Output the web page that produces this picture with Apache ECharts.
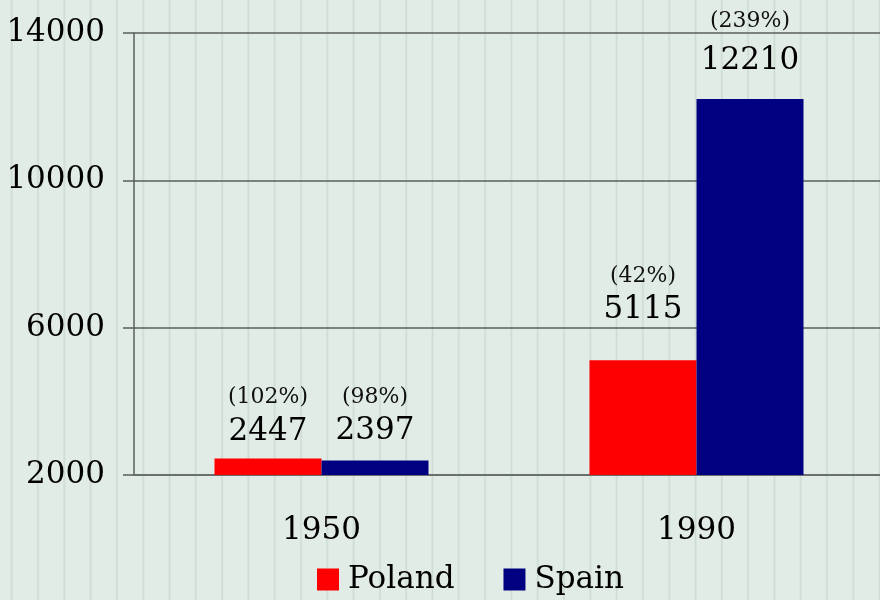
<!DOCTYPE html>
<html>
<head>
<meta charset="utf-8">
<script src="https://cdn.jsdelivr.net/npm/echarts@6/dist/echarts.min.js"></script>
<style>
  html, body { margin: 0; padding: 0; }
  #chart {
    width: 880px;
    height: 600px;
    background-color: #e2ece6;
    background-image: repeating-linear-gradient(to right,
      rgba(0,0,0,0) 0px, rgba(0,0,0,0) 10px,
      #d5e2da 11px, #cfdcd4 11.7px, #d5e2da 12.4px,
      rgba(0,0,0,0) 13.4px, rgba(0,0,0,0) 26.3px);
  }
</style>
</head>
<body>
<div id="chart"></div>
<script>
// values
const years = ['1950', '1990']
const poland = [2447, 5115]
const spain = [2397, 12210]
const polandPct = ['102%', '42%']
const spainPct = ['98%', '239%']
const yTicks = { min: 2000, max: 14000, step: 4000 }

// how far each label floats above its bar, and extra room under the percent line
const polandLift = [10, 33]
const spainLift = [12, 21]
const polandPctGap = [4, 4]
const spainPctGap = [4, 16]

const font = 'DejaVu Serif'

function items (values, pcts, lifts, gaps) {
  return values.map((v, i) => ({
    value: v,
    label: {
      distance: lifts[i],
      formatter: '{p|(' + pcts[i] + ')}\n{v|' + v + '}',
      rich: {
        p: { fontFamily: font, fontSize: 22, lineHeight: 30 + gaps[i], color: '#111' },
        v: { fontFamily: font, fontSize: 31, lineHeight: 34, color: '#000' }
      }
    }
  }))
}

const myChart = echarts.init(document.getElementById('chart'))
const option = {
  backgroundColor: 'transparent',
  animation: false,
  textStyle: { fontFamily: font },
  legend: {
    left: 317,
    top: 564,
    padding: 0,
    itemWidth: 22,
    itemHeight: 22,
    itemGap: 49,
    icon: 'rect',
    textStyle: { fontFamily: font, fontSize: 31, color: '#000', padding: [0, 0, 0, 4] },
    data: ['Poland', 'Spain']
  },
  grid: {
    left: 134,
    top: 33,
    width: 750,
    height: 442,
    containLabel: false,
    outerBoundsMode: 'none'
  },
  xAxis: {
    type: 'category',
    data: years,
    axisLine: { lineStyle: { color: '#6a6f6b', width: 2 } },
    axisTick: { length: 12, lineStyle: { color: '#111', width: 2 } },
    axisLabel: { fontFamily: font, fontSize: 31, color: '#000', margin: 40 }
  },
  yAxis: {
    type: 'value',
    min: yTicks.min,
    max: yTicks.max,
    interval: yTicks.step,
    axisLine: { show: true, lineStyle: { color: '#5a5f5b', width: 1.5 } },
    axisTick: { show: true, length: 11, lineStyle: { color: '#5a5f5b', width: 1.5 } },
    axisLabel: {
      fontFamily: font,
      fontSize: 31,
      color: '#000',
      margin: 29,
      formatter: v => String(v)
    },
    splitLine: { show: true, lineStyle: { color: '#5a5f5b', width: 1.5 } }
  },
  series: [
    {
      name: 'Poland',
      type: 'bar',
      barWidth: 107,
      barGap: '0%',
      itemStyle: { color: '#ff0000' },
      label: { show: true, position: 'top' },
      data: items(poland, polandPct, polandLift, polandPctGap)
    },
    {
      name: 'Spain',
      type: 'bar',
      barWidth: 107,
      barGap: '0%',
      itemStyle: { color: '#000080' },
      label: { show: true, position: 'top' },
      data: items(spain, spainPct, spainLift, spainPctGap)
    }
  ]
}
myChart.setOption(option)
</script>
</body>
</html>
